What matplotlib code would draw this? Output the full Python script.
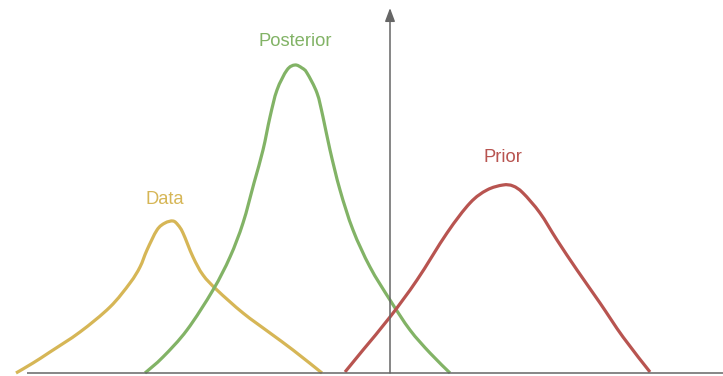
import numpy as np
import matplotlib.pyplot as plt
from matplotlib.path import Path
from matplotlib.patches import PathPatch

# pixel-ish coordinates: x from left edge, y = height above the x axis
data_x = [16, 33, 50, 80, 110, 130, 140, 147, 157, 165, 173, 178, 183, 193, 203, 217, 243, 270, 293, 322]
data_y = [0, 10, 21, 41, 66, 90, 106, 123, 143, 150, 152, 148, 140, 116, 98, 83, 60, 40, 23, 0]

post_x = [145, 163, 187, 213, 230, 243, 254, 263, 270, 277, 287, 295, 302, 307, 317, 323, 330, 340, 353, 370, 390, 410, 430, 450]
post_y = [0, 16, 43, 83, 116, 150, 190, 223, 256, 283, 303, 308, 305, 300, 280, 256, 223, 183, 143, 106, 73, 43, 20, 0]

prior_x = [345, 363, 390, 417, 447, 470, 487, 503, 513, 523, 540, 557, 577, 600, 623, 650]
prior_y = [1, 23, 56, 93, 140, 170, 183, 188, 187, 180, 160, 133, 103, 70, 36, 1]

labels = ['Data', 'Posterior', 'Prior']
label_x = [165, 295, 503]
label_y = [173, 331, 216]
colors = ['#d6b656', '#82b366', '#b85450']


def smooth_path(xs, ys):
    # catmull-rom through the read points, drawn as cubic bezier segments
    p = np.column_stack([xs, ys]).astype(float)
    p = np.vstack([p[0], p, p[-1]])
    verts = [p[1]]
    codes = [Path.MOVETO]
    for i in range(1, len(p) - 2):
        c1 = p[i] + (p[i + 1] - p[i - 1]) / 6
        c2 = p[i + 1] - (p[i + 2] - p[i]) / 6
        verts += [c1, c2, p[i + 1]]
        codes += [Path.CURVE4] * 3
    return Path(verts, codes)


fig = plt.figure(figsize=(7.23, 3.76), dpi=100)
ax = fig.add_axes([0, 0, 1, 1])
ax.set_xlim(0, 723)
ax.set_ylim(-3, 373)
ax.axis('off')

# axes
ax.plot([27, 723], [0, 0], color='#666666', lw=1.1, solid_capstyle='butt')
ax.annotate('', xy=(390, 365), xytext=(390, 0),
            arrowprops=dict(arrowstyle='-|>,head_length=0.8,head_width=0.3',
                            color='#666666', lw=1.1, shrinkA=0, shrinkB=0))

for xs, ys, c in zip([data_x, post_x, prior_x], [data_y, post_y, prior_y], colors):
    ax.add_patch(PathPatch(smooth_path(xs, ys), facecolor='none', edgecolor=c,
                           lw=2.3, joinstyle='round', capstyle='butt'))

for t, x, y, c in zip(labels, label_x, label_y, colors):
    ax.text(x, y, t, color=c, fontsize=13.2, family='Liberation Sans',
            ha='center', va='center')

fig.savefig('out.png', dpi=100)
